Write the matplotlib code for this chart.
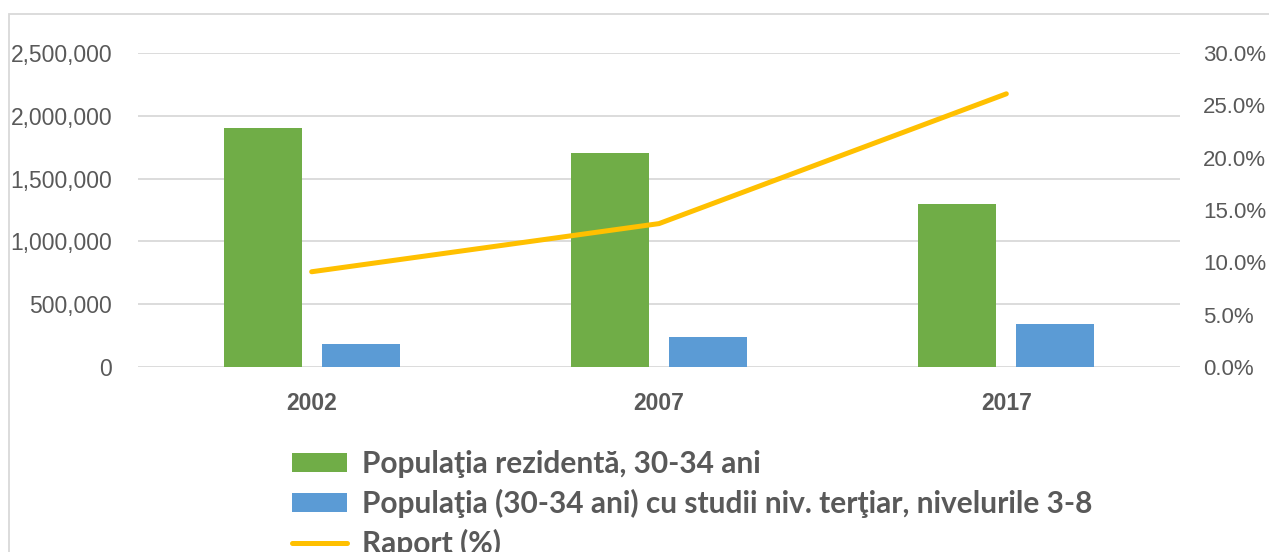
import matplotlib.pyplot as plt
import numpy as np
from matplotlib.patches import Patch, Rectangle
from matplotlib.lines import Line2D
from matplotlib.ticker import FuncFormatter

years = ["2002", "2007", "2017"]
populatie_rezidenta = [1900000, 1700000, 1295000]
populatie_tertiar = [180000, 236000, 340000]
raport = [9.1, 13.7, 26.1]

labels = ["Populaţia rezidentă, 30-34 ani",
          "Populaţia (30-34 ani) cu studii niv. terţiar, nivelurile 3-8",
          "Raport (%)"]

GREEN = "#70AD47"
BLUE = "#5B9BD5"
ORANGE = "#FFC000"
GREY = "#595959"
GRID = "#D9D9D9"
tickfont = ["Liberation Sans", "DejaVu Sans"]

fig = plt.figure(figsize=(12.69, 5.52), dpi=100)
ax = fig.add_axes([138 / 1269, 1 - 367 / 552, (1180 - 138) / 1269, (367 - 53) / 552])

x = np.arange(len(years))
w = 0.225
off = 0.141
ax.bar(x - off, populatie_rezidenta, w, color=GREEN)
ax.bar(x + off, populatie_tertiar, w, color=BLUE)
ax.set_xlim(-0.5, 2.5)
ax.set_ylim(0, 2500000)
ax.set_yticks(np.arange(0, 2500001, 500000))
ax.yaxis.set_major_formatter(FuncFormatter(lambda v, p: f"{int(v):,}"))
ax.grid(axis="y", color=GRID, linewidth=1.3)
ax.set_axisbelow(True)
for s in ax.spines.values():
    s.set_visible(False)
ax.tick_params(axis="y", length=0, pad=18.7, labelsize=16.5, labelcolor=GREY)
ax.tick_params(axis="x", length=0, pad=18, labelsize=16.5, labelcolor=GREY)
ax.set_xticks(x)
ax.set_xticklabels(years, fontweight="bold")
for t in ax.get_xticklabels() + ax.get_yticklabels():
    t.set_family(tickfont)

ax2 = ax.twinx()
ax2.plot(x, raport, color=ORANGE, lw=3.6, solid_capstyle="round")
ax2.set_ylim(0, 30)
ax2.set_yticks(np.arange(0, 31, 5))
ax2.yaxis.set_major_formatter(FuncFormatter(lambda v, p: f"{v:.1f}%"))
for s in ax2.spines.values():
    s.set_visible(False)
ax2.tick_params(axis="y", length=0, pad=16.6, labelsize=16, labelcolor=GREY)
for t in ax2.get_yticklabels():
    t.set_family(tickfont)

# chart border
fig.add_artist(Rectangle((9 / 1269, -0.2), 1.2, 1 - 14 / 552 + 0.2,
                         transform=fig.transFigure, fill=False,
                         edgecolor=GRID, lw=1.3))

handles = [Patch(facecolor=GREEN, edgecolor="none"),
           Patch(facecolor=BLUE, edgecolor="none"),
           Line2D([], [], color=ORANGE, lw=3.6, solid_capstyle="round")]
fig.legend(handles, labels, loc="upper left", bbox_to_anchor=(292 / 1269, 1 - 450 / 552),
           frameon=False, prop=dict(family=["Lato"], weight="bold", size=21.5),
           labelcolor=GREY, handlelength=1.84, handleheight=0.57, handletextpad=0.5,
           labelspacing=0.36, borderpad=0, borderaxespad=0)

fig.savefig("out.png", dpi=100)
